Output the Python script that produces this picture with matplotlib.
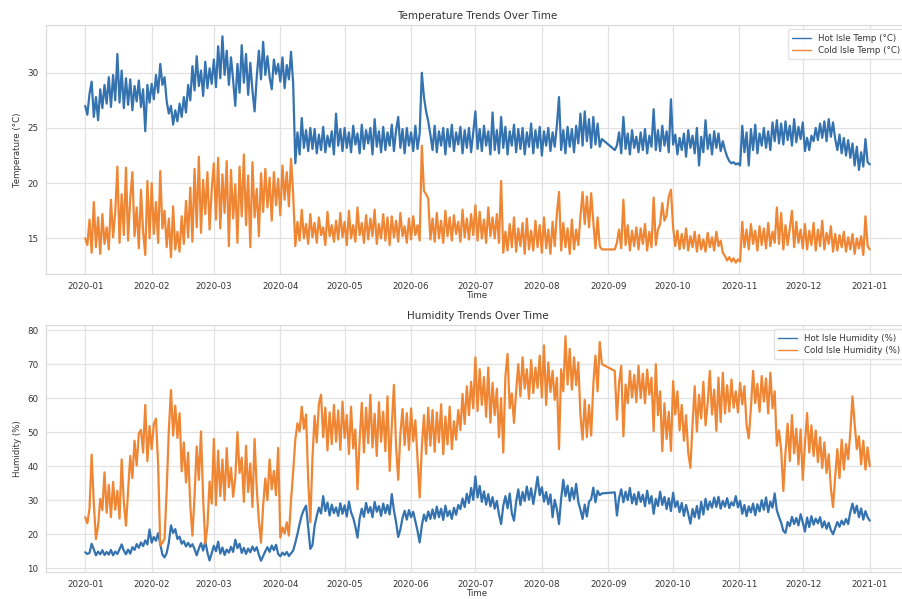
import matplotlib
matplotlib.use("Agg")
import matplotlib.pyplot as plt
import matplotlib.dates as mdates
import numpy as np
import pandas as pd
import seaborn as sns

# daily readings, split at the missing stretch (2020-08-30 .. 2020-09-03)
hot_temp_a = [
    27.0, 26.2, 28.1, 29.2, 26.0, 27.8, 25.7, 28.5, 26.8, 28.9,
    27.2, 29.6, 26.9, 29.8, 27.5, 31.7, 27.3, 30.2, 26.8, 29.5,
    27.1, 29.4, 26.6, 28.8, 27.4, 29.3, 26.9, 28.5, 24.7, 28.9, 27.3,
    29.0, 27.6, 29.8, 28.2, 30.8, 28.9, 29.6,
    27.4, 26.3, 27.0, 25.3, 26.6, 25.6, 27.2, 26.0, 27.8, 26.4,
    28.9, 27.5, 30.6, 28.4, 31.5, 28.8, 30.2, 27.9, 31.0, 28.6, 30.4, 29.0,
    31.2, 28.7, 32.4, 29.5, 33.3, 29.8, 32.0, 28.9, 31.4, 29.3,
    27.0, 30.8, 28.2, 32.5, 29.1, 31.7, 28.0, 30.9, 28.4, 26.5,
    29.6, 32.0, 29.4, 32.8, 29.8, 31.5, 29.6, 28.5, 31.2, 29.9,
    30.8, 29.2, 31.4, 28.6, 30.7, 29.4, 31.9, 29.0,
    21.8, 24.6, 22.6, 25.9, 23.2, 24.8, 22.9, 25.0, 23.1, 24.9,
    22.7, 24.4, 23.0, 25.1, 22.8, 24.3, 23.3, 24.7, 22.6,
    26.3, 23.4, 24.9, 22.9, 25.0, 23.2, 24.6, 22.8, 25.2, 23.5,
    24.5, 22.7, 25.3, 23.1, 24.8, 23.6, 25.0, 22.6, 25.8, 23.3,
    24.7, 22.8, 25.1, 23.0, 24.6, 23.4, 25.3, 22.9, 24.8, 26.0,
    23.2, 24.9, 22.7, 25.0, 23.4, 24.6, 22.9, 25.2, 23.1, 24.5,
    30.0, 27.8, 26.5, 25.6, 24.4,
    23.0, 25.2, 22.8, 24.7, 23.4, 25.0, 22.6, 24.9, 23.3, 25.3,
    22.9, 24.6, 23.5, 25.1, 22.7, 24.8, 23.2, 25.0, 22.8, 24.6,
    26.5, 23.1, 24.9, 22.9, 25.2, 23.4, 24.7, 22.6, 26.4,
    23.0, 24.8, 22.7, 26.0, 23.2, 25.1, 22.6, 24.7, 23.4, 25.3,
    22.8, 24.9, 23.1, 25.0, 22.6, 24.6, 23.3, 25.4, 22.7, 24.8,
    23.2, 25.1, 22.5, 24.7, 23.4, 25.0, 22.9, 24.6, 23.3, 25.2,
    27.8, 23.0, 24.8, 22.7, 25.1, 23.3, 24.9, 22.8, 25.2, 23.6,
    26.3, 23.4, 26.5, 23.8, 25.8, 23.2, 26.0, 23.5, 25.4, 23.3, 24.0,
]
hot_temp_b = [
    23.0, 23.4, 24.6, 22.7, 26.0, 23.1, 24.5, 22.6, 24.8, 23.2, 24.2,
    22.8, 24.6, 23.0, 24.9, 22.7, 24.3, 23.3, 26.7, 23.0, 24.8,
    22.9, 25.2, 23.4, 24.7, 22.8, 27.6, 23.5, 24.4, 22.6, 24.1,
    23.0, 24.5, 22.4, 24.8, 23.2, 24.3, 22.7, 25.0, 21.6, 24.2,
    22.8, 25.7, 23.1, 24.4, 22.6, 24.7, 23.2, 24.5, 22.9, 23.8,
    23.0, 22.4, 22.0, 21.8, 21.9, 21.7, 21.8, 21.6,
    25.2, 22.8, 24.6, 21.6, 24.9, 23.0, 25.3, 22.7, 24.5, 23.4,
    25.0, 23.2, 24.7, 23.0, 25.5, 23.8,
    25.7, 23.6, 25.4, 23.5, 25.6, 23.9, 25.2, 23.4, 25.8, 23.7, 25.1, 24.0, 25.5,
    22.9, 24.1, 23.0, 24.3,
    23.8, 25.0, 23.9, 25.4, 24.1, 25.6, 23.8, 25.8, 24.2, 25.5, 24.0,
    23.0, 24.4, 22.7, 24.1, 22.5, 23.9, 22.3, 23.6,
    21.6, 23.3, 21.2, 22.8, 21.5, 24.0, 21.9, 21.7,
]

cold_temp_a = [
    15.0, 14.4, 16.7, 13.7, 18.3, 14.2, 16.9, 13.6, 17.2, 14.5,
    16.0, 14.0, 18.5, 15.1, 17.4, 21.5, 14.6, 19.0, 15.3, 21.4,
    14.8, 18.6, 21.0, 15.2, 17.8, 14.1, 19.4, 15.6, 13.5, 20.2, 15.0,
    20.0, 15.4, 18.3, 14.6, 21.1, 15.9, 17.5,
    14.2, 16.8, 13.3, 17.9, 14.0, 15.6, 13.8, 17.0, 14.5, 18.4,
    15.1, 19.6, 14.7, 21.3, 16.0, 22.4, 15.5, 20.3, 17.2, 21.0, 15.8, 19.4,
    21.8, 16.7, 22.3, 15.9, 20.8, 17.3, 22.0, 14.3, 21.2, 16.8,
    19.9, 14.6, 21.5, 17.0, 22.6, 16.2, 20.7, 14.2, 21.9, 16.9,
    19.5, 15.2, 20.9, 17.4, 21.3, 17.8, 20.5, 16.6, 21.0, 18.0,
    20.4, 17.1, 21.6, 18.5, 21.0, 17.9, 22.2, 19.0,
    14.3, 16.5, 14.8, 17.6, 15.0, 16.3, 14.5, 17.2, 15.1, 16.4,
    14.6, 16.9, 15.3, 16.0, 14.4, 17.4, 15.2, 16.2, 14.7,
    16.6, 14.9, 17.3, 15.1, 16.5, 14.4, 17.5, 15.0, 16.2, 14.7,
    17.8, 15.3, 16.4, 14.6, 17.1, 14.9, 16.8, 15.2, 17.6, 14.5,
    16.3, 15.0, 17.2, 14.8, 16.9, 14.4, 17.0, 15.1, 16.6, 14.7,
    17.3, 15.2, 16.1, 14.6, 16.8, 14.9, 17.0, 15.3, 16.2, 14.8,
    23.4, 19.3, 19.0, 18.6, 14.9,
    16.8, 14.7, 17.3, 15.0, 16.6, 14.6, 17.5, 15.2, 16.9, 14.8,
    17.1, 15.4, 16.5, 14.7, 17.6, 15.1, 16.8, 14.9, 17.2, 15.3,
    18.0, 14.8, 17.4, 15.0, 16.7, 14.6, 17.8, 15.2, 16.9,
    15.0, 17.2, 14.6, 20.2, 13.7, 15.6, 13.9, 16.3, 14.2, 16.9,
    13.8, 15.9, 14.3, 16.4, 13.6, 16.8, 14.0, 15.7, 13.9, 16.6,
    14.2, 16.2, 13.7, 16.9, 14.1, 15.8, 13.6, 16.5, 14.3, 17.2,
    19.2, 13.9, 16.4, 14.2, 15.9, 13.6, 16.7, 14.0, 15.8, 14.4,
    17.0, 19.2, 16.3, 18.8, 16.0, 19.1, 16.5, 14.1, 16.9, 14.3, 14.0,
]
cold_temp_b = [
    14.0, 14.6, 15.8, 14.1, 18.5, 14.4, 16.2, 13.9, 15.7, 14.3, 16.0,
    14.0, 15.9, 14.5, 16.3, 13.9, 15.6, 14.2, 18.7, 14.4, 15.8,
    16.3, 18.2, 16.6, 17.1, 18.8, 19.4, 16.0, 14.3, 15.7, 14.0,
    15.4, 14.1, 15.9, 13.9, 15.2, 14.2, 15.6, 13.8, 15.3, 14.0,
    14.9, 13.8, 15.5, 14.2, 15.1, 13.9, 15.6, 14.3, 14.8, 13.7,
    13.4, 13.0, 13.3, 12.9, 13.2, 12.8, 13.1, 12.9,
    16.5, 14.2, 15.8, 14.0, 16.3, 14.5, 15.7, 13.9, 16.1, 14.4,
    15.9, 14.1, 16.4, 14.3, 15.6, 14.6,
    17.8, 14.5, 17.3, 14.0, 16.2, 14.4, 15.9, 17.5, 14.2, 16.5, 14.6, 15.8, 14.1,
    16.3, 14.0, 15.7, 14.4,
    16.4, 13.9, 15.8, 14.3, 16.6, 14.0, 15.5, 14.5, 16.1, 13.8, 15.4,
    13.9, 15.3, 14.2, 15.6, 13.8, 15.1, 14.0, 15.4,
    13.6, 15.0, 14.1, 15.2, 13.5, 17.0, 14.3, 14.0,
]

hot_hum_a = [
    14.7, 14.2, 14.5, 17.2, 15.6, 13.8, 14.9, 14.1, 15.3, 13.9,
    14.8, 14.0, 15.4, 13.8, 14.9, 14.2, 15.6, 17.0, 15.2, 14.1,
    15.5, 14.3, 16.2, 15.4, 17.1, 16.0, 17.6, 16.5, 18.2, 17.0, 21.4,
    17.5, 19.2, 18.1, 20.3, 17.2, 14.0, 13.2,
    14.5, 17.6, 22.6, 20.4, 21.5, 18.6, 19.3, 17.2, 18.0, 16.4,
    17.5, 16.3, 17.1, 15.6, 13.8, 15.8, 17.4, 15.2, 18.0, 14.6, 12.3, 14.5,
    16.6, 15.0, 17.8, 14.3, 16.1, 13.9, 15.5, 14.6, 16.3, 14.8,
    18.4, 15.9, 17.2, 14.5, 16.0, 14.2, 15.8, 14.7, 16.4, 15.1,
    16.2, 14.0, 12.2, 13.6, 15.0, 16.2, 14.8, 16.7, 15.3, 16.9,
    14.2, 13.5, 14.6, 13.9, 14.8, 13.6, 14.4, 15.2,
    17.5, 20.1, 23.0, 25.6, 27.2, 28.4, 22.0, 15.7, 16.8, 22.5,
    25.4, 27.8, 26.1, 31.2, 26.8, 29.3, 25.5, 28.7, 26.2,
    27.9, 25.4, 29.1, 26.0, 28.5, 25.2, 29.6, 26.4, 24.8, 22.3,
    19.0, 24.6, 27.5, 25.1, 29.2, 26.3, 28.0, 25.0, 29.5, 26.6,
    28.3, 25.4, 29.0, 26.2, 28.6, 25.8, 31.8, 27.0, 23.5, 19.2,
    21.4, 24.8, 26.9, 24.3, 27.1, 25.0, 26.6, 23.8, 21.0, 17.6,
    22.5, 25.8, 23.9, 26.7, 24.5,
    27.3, 24.6, 28.1, 25.0, 27.5, 24.2, 28.4, 25.3, 26.9, 24.5,
    27.8, 25.7, 28.6, 27.4, 30.5, 28.0, 31.9, 29.2, 33.6, 30.1,
    37.0, 30.8, 34.2, 29.5, 32.6, 28.7, 31.8, 28.2, 30.9,
    27.5, 29.8, 25.8, 23.0, 28.4, 31.2, 27.6, 32.0, 26.1, 24.0,
    29.5, 33.2, 28.6, 32.4, 29.8, 34.0, 30.2, 33.5, 28.9, 32.7,
    36.9, 31.5, 33.8, 29.6, 32.4, 28.8, 31.7, 25.0, 30.1, 27.4,
    23.0, 30.5, 36.0, 31.2, 34.3, 29.8, 33.6, 30.4, 34.8, 29.5,
    27.2, 24.5, 28.7, 25.2, 29.6, 30.3, 33.7, 29.4, 32.8, 31.5, 32.0,
]
hot_hum_b = [
    32.3, 25.5, 30.6, 33.2, 29.4, 32.5, 30.0, 33.6, 29.1, 31.8, 28.7,
    32.4, 29.5, 31.6, 28.2, 32.8, 29.0, 31.2, 26.0, 30.4, 28.3,
    32.5, 28.6, 31.0, 27.4, 30.6, 26.8, 32.2, 28.0, 29.7, 26.5,
    29.2, 25.4, 28.6, 26.0, 23.1, 27.4, 25.0, 28.3, 24.6, 29.5,
    25.8, 30.4, 27.2, 29.6, 27.8, 30.8, 28.0, 31.0, 27.5, 29.8,
    28.1, 30.6, 27.7, 29.4, 28.4, 31.2, 27.9, 29.8,
    26.0, 28.6, 25.3, 28.2, 26.4, 29.0, 25.6, 28.8, 26.7, 30.0,
    27.2, 30.8, 26.5, 29.6, 27.8, 32.0,
    27.0, 25.1, 23.4, 21.0, 20.4, 23.6, 22.4, 25.1, 23.0, 24.8, 22.6, 25.9, 23.5,
    20.8, 24.9, 22.1, 25.3,
    22.8, 24.6, 23.2, 25.0, 22.0, 23.8, 21.6, 23.4, 21.2, 20.0, 21.8,
    23.6, 22.2, 24.0, 22.8, 24.5, 23.0, 26.5, 29.0,
    26.2, 28.4, 25.0, 27.6, 24.3, 26.8, 25.0, 24.0,
]

cold_hum_a = [
    25.0, 23.2, 27.5, 43.4, 29.0, 18.6, 22.5, 30.4, 27.1, 38.2,
    26.3, 34.5, 25.0, 35.4, 27.2, 32.8, 24.6, 42.0, 29.5, 22.5,
    33.0, 43.0, 36.5, 47.5, 40.2, 49.6, 50.7, 44.0, 58.0, 41.5, 51.8,
    45.0, 52.4, 54.0, 40.6, 16.7, 17.5, 18.6,
    33.0, 50.6, 62.4, 49.0, 57.8, 48.3, 55.6, 38.5, 47.0, 35.2,
    44.0, 28.5, 19.6, 31.4, 45.8, 36.0, 50.2, 30.5, 17.2, 22.4, 35.5, 29.0,
    48.0, 28.5, 44.6, 31.2, 42.0, 30.0, 45.3, 33.8, 39.5, 31.0,
    36.5, 50.0, 38.0, 42.5, 29.5, 46.0, 32.4, 40.8, 28.0, 48.0,
    33.5, 24.0, 17.5, 28.5, 36.4, 30.0, 42.0, 33.2, 38.6, 31.5,
    45.4, 19.0, 22.0, 20.2, 23.5, 19.6, 30.0, 38.5,
    47.8, 52.6, 50.2, 57.5, 51.0, 55.2, 36.0, 23.5, 42.5, 54.8,
    47.0, 58.3, 61.0, 48.5, 57.2, 44.6, 55.8, 46.5, 58.0,
    47.2, 56.4, 44.8, 59.0, 48.3, 55.0, 43.6, 57.5, 45.2, 50.8,
    33.2, 47.5, 58.6, 44.0, 57.2, 46.8, 61.0, 45.5, 55.4, 43.0,
    58.8, 47.2, 56.0, 44.4, 60.5, 38.6, 52.0, 63.9, 45.8, 36.0,
    49.5, 56.8, 46.2, 55.6, 44.8, 57.0, 47.3, 53.5, 42.0, 30.8,
    45.5, 55.0, 43.6, 57.2, 46.0,
    56.5, 44.2, 55.8, 47.0, 58.2, 43.5, 54.6, 46.4, 57.5, 45.0,
    53.2, 47.8, 56.5, 50.6, 61.2, 52.4, 63.5, 55.0, 64.8, 57.0,
    72.0, 56.2, 68.5, 58.0, 66.2, 54.5, 69.0, 52.8, 64.5,
    55.0, 62.8, 48.5, 60.0, 44.0, 66.5, 73.0, 57.0, 61.4, 52.7,
    62.0, 70.0, 60.5, 72.0, 62.8, 68.5, 59.8, 71.2, 61.5, 69.0,
    63.0, 72.5, 60.2, 75.5, 58.0, 70.5, 61.8, 68.0, 59.5, 66.0,
    45.0, 68.5, 62.0, 78.2, 64.0, 74.5, 62.5, 72.0, 63.8, 70.5,
    55.0, 47.8, 59.5, 48.5, 58.0, 49.0, 64.0, 72.5, 62.0, 76.5, 70.0,
]
cold_hum_b = [
    68.0, 53.7, 64.5, 69.5, 48.8, 64.0, 58.5, 68.0, 60.2, 66.8, 58.8,
    69.5, 60.0, 67.2, 58.5, 68.4, 61.0, 66.0, 50.3, 70.0, 55.0,
    62.0, 44.4, 58.5, 48.0, 56.0, 44.5, 65.0, 55.2, 62.0, 50.5,
    58.0, 47.5, 55.0, 44.0, 39.5, 52.5, 63.5, 50.2, 61.0, 54.0,
    64.8, 52.0, 58.5, 68.0, 55.2, 62.5, 50.4, 66.0, 53.0, 67.5,
    55.5, 63.8, 56.0, 65.5, 57.2, 62.0, 55.8, 64.5,
    58.2, 63.5, 52.0, 48.2, 57.0, 68.0, 58.5, 64.2, 56.0, 66.5,
    59.0, 65.8, 55.5, 67.5, 57.0, 62.0,
    46.0, 50.5, 44.8, 32.7, 44.0, 52.5, 41.5, 55.0, 43.8, 51.0, 40.5, 50.8, 36.0,
    46.5, 55.6, 44.0, 52.0,
    43.0, 50.5, 41.2, 48.5, 39.5, 47.0, 38.0, 43.5, 33.5, 28.0, 37.0,
    45.0, 36.5, 47.8, 39.0, 46.5, 42.0, 50.0, 60.5,
    52.5, 45.0, 48.8, 40.5, 47.5, 39.0, 45.5, 40.0,
]


def stamps(a, b):
    # regular daily sampling either side of the gap
    t1 = pd.date_range("2020-01-01", "2020-08-29", periods=len(a))
    t2 = pd.date_range("2020-09-04", "2020-12-31 23:00", periods=len(b))
    return t1.append(t2)


blue = "#3573b0"
orange = "#ef8634"
lw = 1.6

sns.set_style("whitegrid")
plt.rcParams["font.family"] = ["DejaVu Sans"]

fig = plt.figure(figsize=(9.02, 5.99), dpi=100)
ax1 = fig.add_axes([46 / 902, 325 / 599, 863 / 902, 249 / 599])
ax2 = fig.add_axes([46 / 902, 27 / 599, 863 / 902, 247 / 599])

ax1.plot(stamps(hot_temp_a, hot_temp_b), hot_temp_a + hot_temp_b, color=blue, lw=lw,
         label="Hot Isle Temp (°C)")
ax1.plot(stamps(cold_temp_a, cold_temp_b), cold_temp_a + cold_temp_b, color=orange, lw=lw,
         label="Cold Isle Temp (°C)")
ax1.set_title("Temperature Trends Over Time", fontsize=7.5, color="#333333", pad=4)
ax1.set_ylabel("Temperature (°C)", fontsize=6.2, color="#333333", labelpad=4)

ax2.plot(stamps(hot_hum_a, hot_hum_b), hot_hum_a + hot_hum_b, color=blue, lw=lw,
         label="Hot Isle Humidity (%)")
ax2.plot(stamps(cold_hum_a, cold_hum_b), cold_hum_a + cold_hum_b, color=orange, lw=lw,
         label="Cold Isle Humidity (%)")
ax2.set_title("Humidity Trends Over Time", fontsize=7.5, color="#333333", pad=4)
ax2.set_ylabel("Humidity (%)", fontsize=6.2, color="#333333", labelpad=4)

for ax in (ax1, ax2):
    ax.xaxis.set_major_locator(mdates.MonthLocator())
    ax.xaxis.set_major_formatter(mdates.DateFormatter("%Y-%m"))
    ax.tick_params(labelsize=6.3, colors="#333333", pad=2)
    ax.set_xlabel("Time", fontsize=6.2, color="#333333", labelpad=0)
    ax.grid(color="#e2e2e2", lw=0.9)
    for s in ax.spines.values():
        s.set_color("#d8d8d8")
    leg = ax.legend(loc="upper right", fontsize=6.2, frameon=True, borderpad=0.5,
                    handlelength=2.2, labelspacing=0.4)
    leg.get_frame().set_edgecolor("#dddddd")
    for line in leg.get_lines():
        line.set_linewidth(1.0)
    for t in leg.get_texts():
        t.set_color("#333333")

fig.savefig("out.png", dpi=100)
